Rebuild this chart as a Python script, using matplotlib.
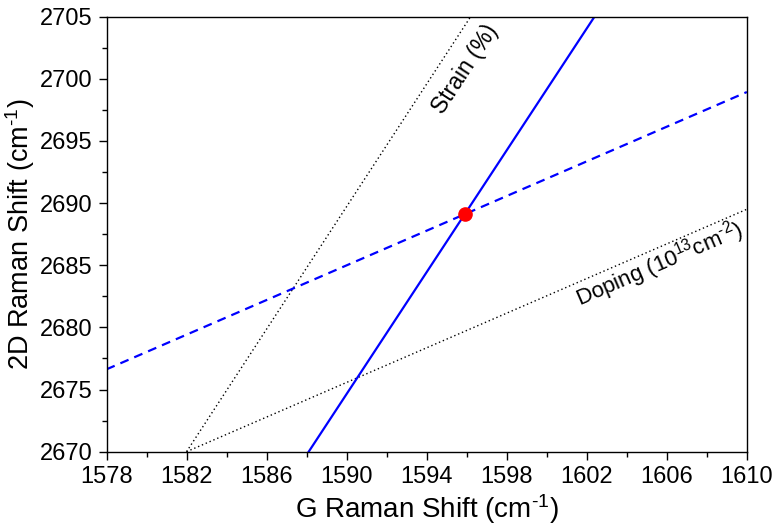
import matplotlib

matplotlib.use("Agg")
import matplotlib.pyplot as plt
import numpy as np
from matplotlib.ticker import FixedLocator, MultipleLocator

plt.rcParams["font.family"] = ["Liberation Sans", "DejaVu Sans"]
plt.rcParams["mathtext.fontset"] = "custom"
plt.rcParams["mathtext.rm"] = "Liberation Sans"
plt.rcParams["mathtext.it"] = "Liberation Sans:italic"
plt.rcParams["mathtext.bf"] = "Liberation Sans:bold"

# reference lines (G, 2D end points)
strain_g = [1582.0, 1596.2]
strain_2d = [2670.0, 2705.0]
doping_g = [1582.0, 1610.0]
doping_2d = [2670.0, 2689.5]

# lines through the measured point
meas_g = 1595.9
meas_2d = 2689.1
strain_slope = 2.45
doping_slope = 0.697

x_major = np.arange(1578, 1611, 4)
x_minor = np.arange(1580, 1610, 4)

fig = plt.figure(figsize=(7.74, 5.24), dpi=100)
ax = fig.add_axes([0.1376, 0.138, 0.8274, 0.8305])

ax.plot(strain_g, strain_2d, color="black", lw=1.0, ls=(0, (1, 2)))
ax.plot(doping_g, doping_2d, color="black", lw=1.0, ls=(0, (1, 2)))

gx = np.array([1578.0, 1610.0])
ax.plot(gx, meas_2d + strain_slope * (gx - meas_g), color="#0000ff", lw=1.6)
ax.plot(gx, meas_2d + doping_slope * (gx - meas_g), color="#0000ff", lw=1.6,
        ls=(0, (4, 2.8)))
ax.plot([meas_g], [meas_2d], "o", color="#ff0000", ms=9.5, zorder=5)

ax.text(1595.9, 2700.8, "Strain (%)", rotation=56.8, fontsize=16.5,
        ha="center", va="center", rotation_mode="anchor")
ax.text(1605.6, 2685.1, r"Doping (10$^{\text{13}}$cm$^{\text{-2}}$)",
        rotation=23.4, fontsize=16, ha="center", va="center",
        rotation_mode="anchor")

ax.set_xlim(1578, 1610)
ax.set_ylim(2670, 2705)
ax.xaxis.set_major_locator(FixedLocator(x_major))
ax.xaxis.set_minor_locator(FixedLocator(x_minor))
ax.yaxis.set_major_locator(MultipleLocator(5))
ax.yaxis.set_minor_locator(MultipleLocator(2.5))
ax.tick_params(which="both", direction="out", top=False, right=False,
               labelsize=17, width=1.0)
ax.tick_params(which="major", length=6, pad=4)
ax.tick_params(which="minor", length=3.5)
for s in ax.spines.values():
    s.set_linewidth(1.0)

ax.set_xlabel(r"G Raman Shift (cm$^{\text{-1}}$)", fontsize=20, labelpad=3)
ax.set_ylabel(r"2D Raman Shift (cm$^{\text{-1}}$)", fontsize=19.5)
ax.yaxis.set_label_coords(-0.108, 0.5)

plt.savefig("out.png", dpi=100)
